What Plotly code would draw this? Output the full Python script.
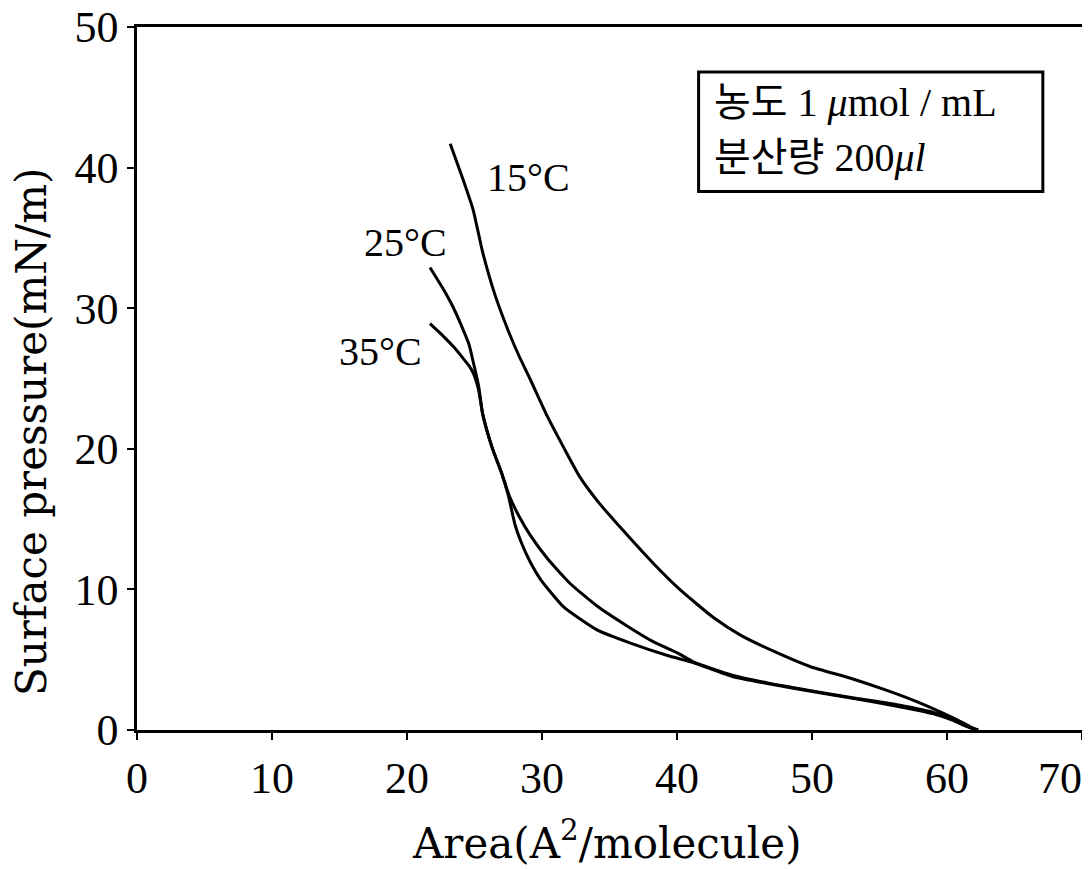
import plotly.graph_objects as go

# Surface pressure–area isotherms
x_15 = [23.2, 24.1, 24.9, 25.6, 26.5, 27.5, 28.3, 29.1, 30.4, 31.6, 32.8, 34.1, 36.0, 38.2,
        40.2, 42.7, 44.7, 47.4, 49.9, 52.8, 55.6, 57.8, 59.7, 61.0, 61.7, 62.3]
y_15 = [41.7, 39.3, 37.0, 34.0, 31.0, 28.4, 26.6, 25.0, 22.3, 20.1, 18.0, 16.3, 14.2, 11.9,
        10.0, 8.0, 6.75, 5.5, 4.5, 3.7, 2.8, 2.0, 1.2, 0.6, 0.25, 0.0]

x_25 = [21.7, 22.6, 23.4, 24.1, 24.6, 24.9, 25.3, 25.6, 26.3, 27.0, 27.6, 28.3, 29.1, 30.4,
        32.1, 34.1, 36.3, 38.2, 40.2, 41.2, 44.1, 46.7, 49.9, 53.0, 56.0, 59.0, 60.4, 61.2,
        61.9, 62.3]
y_25 = [32.9, 31.5, 30.1, 28.6, 27.4, 26.2, 24.5, 22.5, 20.1, 18.3, 16.6, 15.2, 13.9, 12.2,
        10.4, 8.8, 7.4, 6.3, 5.4, 4.85, 3.9, 3.35, 2.8, 2.3, 1.85, 1.25, 0.8, 0.45,
        0.1, 0.0]

x_35 = [21.7, 22.7, 23.5, 24.1, 24.6, 24.9, 25.3, 25.6, 26.3, 27.0, 27.5, 28.0, 28.4, 29.1,
        29.9, 31.6, 34.1, 36.5, 39.3, 41.2, 44.1, 46.7, 49.9, 53.0, 56.0, 59.0, 60.4, 61.2,
        61.9, 62.3]
y_35 = [28.9, 28.0, 27.2, 26.5, 25.9, 25.4, 24.2, 22.5, 20.1, 18.3, 16.7, 14.6, 13.5, 12.0,
        10.7, 8.75, 7.1, 6.2, 5.3, 4.8, 3.8, 3.3, 2.75, 2.25, 1.75, 1.15, 0.7, 0.35,
        0.1, 0.0]

series_names = ["15°C", "25°C", "35°C"]
label_x = [29.0, 19.9, 18.0]
label_y = [39.3, 34.7, 26.9]

x_ticks = [0, 10, 20, 30, 40, 50, 60, 70]
x_ticktext = ["0", "10", "20", "30", "40", "50", "60", "70\u00a0\u00a0\u00a0\u00a0"]
y_ticks = [0, 10, 20, 30, 40, 50]

box_lines = ["농도 1 <i>μ</i>mol / mL", "분산량 200<i>μl</i>"]

SERIF = "Liberation Serif, Noto Sans CJK KR, serif"
WIDE = "DejaVu Serif, Liberation Serif, serif"

fig = go.Figure()
for xs, ys, nm in zip([x_15, x_25, x_35], [y_15, y_25, y_35], series_names):
    fig.add_trace(go.Scatter(x=xs, y=ys, mode="lines", name=nm,
                             line=dict(color="black", width=3, shape="spline", smoothing=0.5),
                             showlegend=False, hoverinfo="skip"))

annotations = []
for nm, lx, ly in zip(series_names, label_x, label_y):
    annotations.append(dict(x=lx, y=ly, xref="x", yref="y", text=nm, showarrow=False,
                            font=dict(family=SERIF, size=40, color="black"),
                            xanchor="center", yanchor="middle"))

# info box text
annotations.append(dict(x=42.6, y=44.6, xref="x", yref="y", text=box_lines[0], showarrow=False,
                        font=dict(family=SERIF, size=40, color="black"), xanchor="left", yanchor="middle"))
annotations.append(dict(x=42.6, y=40.75, xref="x", yref="y", text=box_lines[1], showarrow=False,
                        font=dict(family=SERIF, size=40, color="black"), xanchor="left", yanchor="middle"))

# axis titles
annotations.append(dict(x=0.497, y=-0.157, xref="paper", yref="paper",
                        text="Area(A<sup>2</sup>/molecule)", showarrow=False,
                        font=dict(family=WIDE, size=42, color="black"),
                        xanchor="center", yanchor="middle"))
annotations.append(dict(x=-0.111, y=0.424, xref="paper", yref="paper",
                        text="Surface pressure(mN/m)", showarrow=False, textangle=-90,
                        font=dict(family=WIDE, size=42, color="black"),
                        xanchor="center", yanchor="middle"))

fig.add_shape(type="rect", xref="x", yref="y", x0=41.6, x1=67.1, y0=38.3, y1=46.8,
              line=dict(color="black", width=3), fillcolor="rgba(0,0,0,0)")

# the page body adds an 8 px offset, so the figure is sized to fit the 1090x869 window
fig.update_layout(
    width=1082, height=861,
    margin=dict(l=129, r=8, t=19, b=139),
    paper_bgcolor="white", plot_bgcolor="white",
    annotations=annotations,
    font=dict(family=SERIF, color="black"),
)
fig.update_xaxes(range=[0, 70], tickvals=x_ticks, ticktext=x_ticktext,
                 showline=True, mirror=True, linecolor="black", linewidth=2.5,
                 ticks="outside", ticklen=7, tickwidth=2, tickcolor="black",
                 showgrid=False, zeroline=False, automargin=False,
                 ticklabeloverflow="allow",
                 tickfont=dict(family=SERIF, size=44, color="black"))
fig.update_yaxes(range=[0, 50], tickvals=y_ticks, ticktext=[str(v) for v in y_ticks],
                 showline=True, mirror=True, linecolor="black", linewidth=2.5,
                 ticks="outside", ticklen=7, tickwidth=2, tickcolor="black",
                 showgrid=False, zeroline=False, automargin=False,
                 ticklabeloverflow="allow",
                 tickfont=dict(family=SERIF, size=44, color="black"))

fig.write_html("out.html")
